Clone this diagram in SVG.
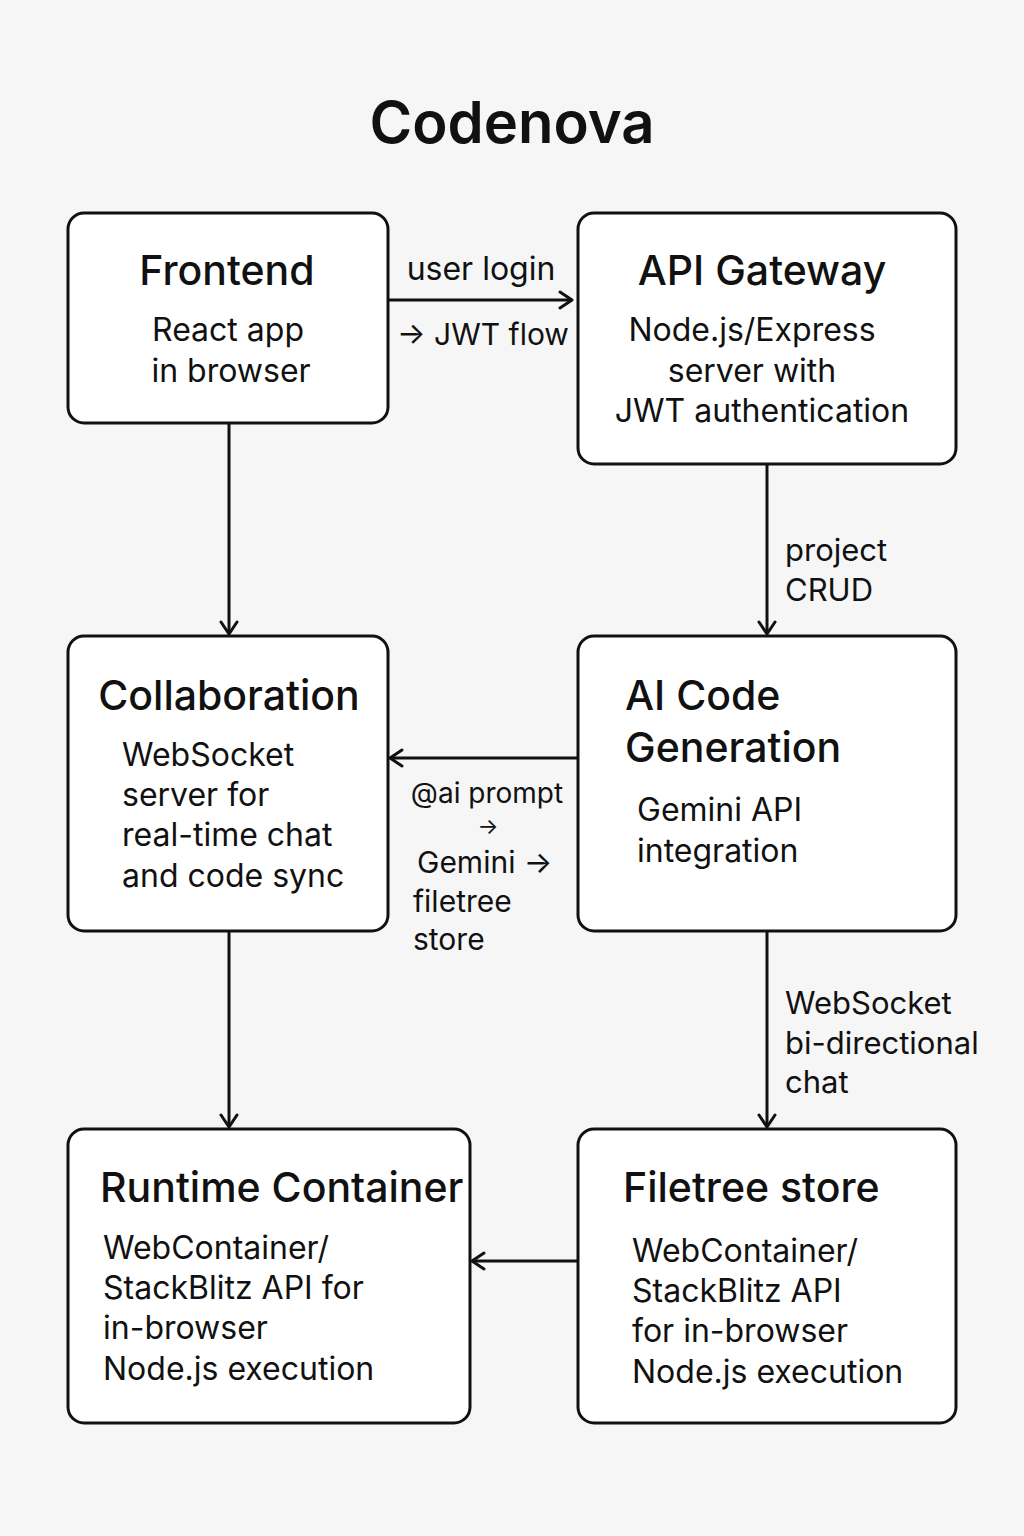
<svg xmlns="http://www.w3.org/2000/svg" width="1024" height="1536" viewBox="0 0 1024 1536">
<defs>
<marker id="arr" viewBox="0 0 20 20" refX="17" refY="10" markerWidth="20" markerHeight="20" markerUnits="userSpaceOnUse" orient="auto">
<path d="M5,2 L17,10 L5,18" fill="none" stroke="#111" stroke-width="3" stroke-linecap="round" stroke-linejoin="round"/>
</marker>
</defs>
<style>
text{font-family:Inter,"Liberation Sans",sans-serif;fill:#111}
.box{fill:#fff;stroke:#111;stroke-width:3}
.title{font-size:58px;font-weight:600}
.h{font-size:41px;font-weight:500}
.b{font-size:32px}
.l{font-size:31px}
.c{fill:none;stroke:#111;stroke-width:3}
</style>
<rect width="1024" height="1536" fill="#f6f6f6"/>
<text class="title" x="512" y="143" text-anchor="middle">Codenova</text>
<g id="connectors">
<line class="c" x1="388" y1="300" x2="572" y2="300" marker-end="url(#arr)"/>
<line class="c" x1="229" y1="423" x2="229" y2="634" marker-end="url(#arr)"/>
<line class="c" x1="767" y1="464" x2="767" y2="634" marker-end="url(#arr)"/>
<line class="c" x1="578" y1="758" x2="390" y2="758" marker-end="url(#arr)"/>
<line class="c" x1="229" y1="931" x2="229" y2="1127" marker-end="url(#arr)"/>
<line class="c" x1="767" y1="931" x2="767" y2="1127" marker-end="url(#arr)"/>
<line class="c" x1="578" y1="1261" x2="472" y2="1261" marker-end="url(#arr)"/>
<text class="l" x="481" y="280" text-anchor="middle" style="font-size:32px">user login</text>
<text class="l" x="397" y="345" style="font-size:30px">→ JWT flow</text>
<text class="l" x="785" y="561">project</text>
<text class="l" x="785" y="601">CRUD</text>
<text class="l" x="487" y="803" text-anchor="middle" style="font-size:28px">@ai prompt</text>
<text class="l" x="488" y="834" text-anchor="middle" style="font-size:22px">→</text>
<text class="l" x="417" y="873" style="font-size:30px">Gemini →</text>
<text class="l" x="413" y="912" style="font-size:30px">filetree</text>
<text class="l" x="413" y="950" style="font-size:30px">store</text>
<text class="l" x="785" y="1014">WebSocket</text>
<text class="l" x="785" y="1054">bi-directional</text>
<text class="l" x="785" y="1093">chat</text>
</g>
<g id="frontend">
<rect class="box" x="68" y="213" width="320" height="210" rx="16"/>
<text class="h" x="227" y="285" text-anchor="middle">Frontend</text>
<text class="b" x="228" y="341" text-anchor="middle">React app</text>
<text class="b" x="231" y="382" text-anchor="middle">in browser</text>
</g>
<g id="api-gateway">
<rect class="box" x="578" y="213" width="378" height="251" rx="16"/>
<text class="h" x="762" y="285" text-anchor="middle">API Gateway</text>
<text class="b" x="752" y="341" text-anchor="middle">Node.js/Express</text>
<text class="b" x="752" y="382" text-anchor="middle">server with</text>
<text class="b" x="762" y="422" text-anchor="middle">JWT authentication</text>
</g>
<g id="collaboration">
<rect class="box" x="68" y="636" width="320" height="295" rx="16"/>
<text class="h" x="229" y="710" text-anchor="middle">Collaboration</text>
<text class="b" x="122" y="766">WebSocket</text>
<text class="b" x="122" y="806">server for</text>
<text class="b" x="122" y="846">real-time chat</text>
<text class="b" x="122" y="887">and code sync</text>
</g>
<g id="ai-code-generation">
<rect class="box" x="578" y="636" width="378" height="295" rx="16"/>
<text class="h" x="625" y="710">AI Code</text>
<text class="h" x="625" y="762">Generation</text>
<text class="b" x="637" y="821">Gemini API</text>
<text class="b" x="637" y="862">integration</text>
</g>
<g id="runtime-container">
<rect class="box" x="68" y="1129" width="402" height="294" rx="16"/>
<text class="h" x="100" y="1202">Runtime Container</text>
<text class="b" x="103" y="1259">WebContainer/</text>
<text class="b" x="103" y="1299">StackBlitz API for</text>
<text class="b" x="103" y="1339">in-browser</text>
<text class="b" x="103" y="1380">Node.js execution</text>
</g>
<g id="filetree-store">
<rect class="box" x="578" y="1129" width="378" height="294" rx="16"/>
<text class="h" x="623" y="1202">Filetree store</text>
<text class="b" x="632" y="1262">WebContainer/</text>
<text class="b" x="632" y="1302">StackBlitz API</text>
<text class="b" x="632" y="1342">for in-browser</text>
<text class="b" x="632" y="1383">Node.js execution</text>
</g>
</svg>
